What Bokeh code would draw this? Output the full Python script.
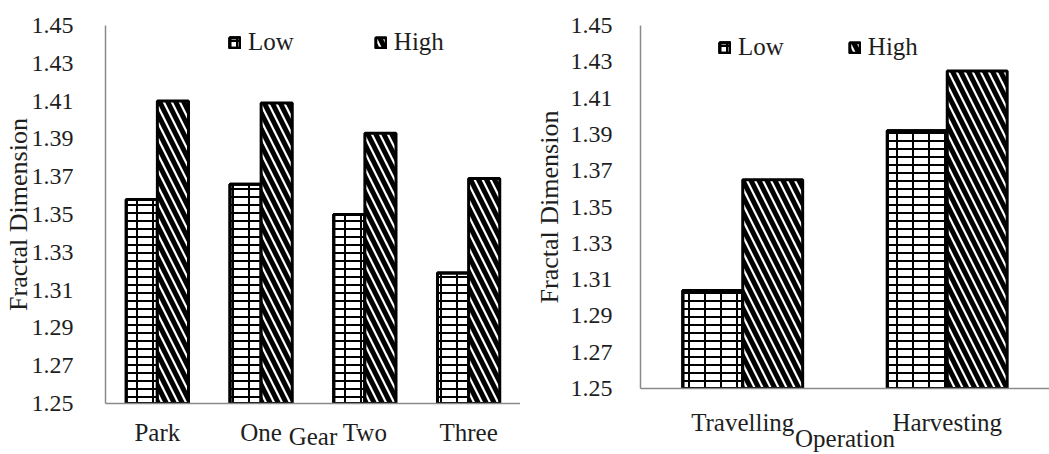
from bokeh.plotting import figure
from bokeh.layouts import row, column
from bokeh.models import ColumnDataSource, FixedTicker, NumeralTickFormatter, Range1d
from bokeh.transform import dodge
from bokeh.embed import file_html
from bokeh.resources import INLINE

# ---- data ----
gears = ["Park", "One", "Two", "Three"]
gear_low = [1.358, 1.366, 1.350, 1.319]
gear_high = [1.410, 1.409, 1.393, 1.369]

operations = ["Travelling", "Harvesting"]
op_low = [1.304, 1.392]
op_high = [1.365, 1.425]

series = ["Low", "High"]
y_ticks = [1.25, 1.27, 1.29, 1.31, 1.33, 1.35, 1.37, 1.39, 1.41, 1.43, 1.45]
y_label = "Fractal Dimension"

FONT = "Liberation Serif"
AXIS_GRAY = "#8a8a8a"
TEXT = "#1e1e1e"


def make_chart(cats, low, high, xlabel, width, border_left, border_bottom,
               tick_standoff_y, ylabel_standoff, tick_standoff_x, xlabel_standoff,
               bar_w, legend_loc, legend_spacing):
    src = ColumnDataSource(dict(cat=cats, low=low, high=high))
    p = figure(x_range=cats, y_range=Range1d(y_ticks[0], y_ticks[-1]),
               width=width, height=454, output_backend="svg", toolbar_location=None,
               min_border_left=border_left, min_border_right=0, min_border_top=25,
               min_border_bottom=border_bottom)
    p.outline_line_color = None
    p.xgrid.grid_line_color = None
    p.ygrid.grid_line_color = None
    p.x_range.range_padding = 0

    low_x = dodge("cat", -bar_w / 2, range=p.x_range)
    high_x = dodge("cat", bar_w / 2, range=p.x_range)
    # "Low": brick-like texture = horizontal courses + vertical joints
    p.vbar(x=low_x, top="low", bottom=y_ticks[0], width=bar_w, source=src,
           fill_color="white", line_color="black", line_width=3,
           hatch_pattern="horizontal_line", hatch_scale=8, hatch_weight=2,
           hatch_color="black", legend_label=series[0])
    p.vbar(x=low_x, top="low", bottom=y_ticks[0], width=bar_w, source=src,
           fill_alpha=0, line_color="black", line_width=3,
           hatch_pattern="vertical_line", hatch_scale=16, hatch_weight=2,
           hatch_color="black", legend_label=series[0])
    # "High": diagonal stripes
    p.vbar(x=high_x, top="high", bottom=y_ticks[0], width=bar_w, source=src,
           fill_color="white", line_color="black", line_width=3,
           hatch_pattern="left_diagonal_line", hatch_scale=16, hatch_weight=5,
           hatch_color="black", legend_label=series[1])

    for ax in (p.xaxis[0], p.yaxis[0]):
        ax.axis_line_color = AXIS_GRAY
        ax.axis_line_width = 1.5
        ax.major_tick_line_color = None
        ax.minor_tick_line_color = None
        ax.major_tick_out = 0
        ax.major_tick_in = 0
        ax.minor_tick_out = 0
        ax.minor_tick_in = 0
        ax.major_label_text_font = FONT
        ax.major_label_text_color = TEXT
        ax.axis_label_text_font = FONT
        ax.axis_label_text_font_style = "normal"
        ax.axis_label_text_color = TEXT

    yax = p.yaxis[0]
    yax.ticker = FixedTicker(ticks=y_ticks)
    yax.formatter = NumeralTickFormatter(format="0.00")
    yax.major_label_text_font_size = "24px"
    yax.major_label_standoff = tick_standoff_y
    yax.axis_label = y_label
    yax.axis_label_text_font_size = "26px"
    yax.axis_label_standoff = ylabel_standoff

    xax = p.xaxis[0]
    xax.major_label_text_font_size = "25px"
    xax.major_label_standoff = tick_standoff_x
    xax.axis_label = xlabel
    xax.axis_label_text_font_size = "25px"
    xax.axis_label_standoff = xlabel_standoff

    lg = p.legend[0]
    lg.orientation = "horizontal"
    lg.location = legend_loc
    lg.glyph_width = 13
    lg.glyph_height = 13
    lg.label_standoff = 7
    lg.spacing = legend_spacing
    lg.padding = 0
    lg.margin = 0
    lg.border_line_color = None
    lg.background_fill_alpha = 0
    lg.label_text_font = FONT
    lg.label_text_font_size = "25px"
    lg.label_text_color = TEXT
    return p


left = make_chart(gears, gear_low, gear_high, "Gear", 520, 104, 51,
                  32, -4, 15, -26, 0.3, (123, 347), 80)
right = make_chart(operations, op_low, op_high, "Operation", 529, 120, 66,
                   28, 4, 20, -14, 0.293, (78, 327), 64)

layout = row(column(left), column(right))
open("out.html", "w").write(file_html(layout, INLINE))
